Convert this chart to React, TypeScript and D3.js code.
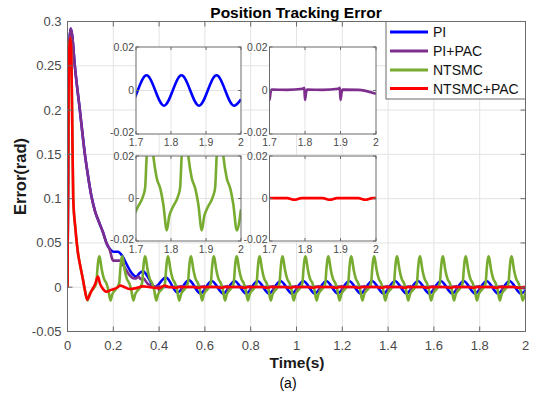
import React from 'react';
import * as d3 from 'd3';

const W = 537;
const H = 393;

// ---------- data ----------
// PI (blue): start-up transient
const piT = [0, 0.004, 0.009, 0.014, 0.02, 0.032, 0.054, 0.076, 0.09, 0.105, 0.12, 0.14, 0.155, 0.17, 0.185, 0.2, 0.22, 0.24, 0.26, 0.28, 0.3, 0.315, 0.33, 0.35, 0.37, 0.38];
const piV = [0, 0.2, 0.28, 0.292, 0.285, 0.25, 0.2, 0.15, 0.125, 0.102, 0.086, 0.072, 0.062, 0.05, 0.043, 0.04, 0.04, 0.035, 0.025, 0.016, 0.012, 0.016, 0.018, 0.012, 0.003, 0.0];
// PI (blue): steady oscillation extrema
const piOscT = [0.43, 0.48, 0.53, 0.58, 0.63, 0.68, 0.73, 0.78, 0.83, 0.88, 0.93, 0.98, 1.03, 1.08, 1.13, 1.18, 1.23, 1.28, 1.33, 1.38, 1.43, 1.48, 1.53, 1.58, 1.63, 1.68, 1.73, 1.78, 1.83, 1.88, 1.93, 1.98, 2.0];
const piOscV = [0.011, -0.006, 0.008, -0.007, 0.007, -0.007, 0.007, -0.007, 0.007, -0.007, 0.007, -0.007, 0.007, -0.007, 0.007, -0.007, 0.007, -0.007, 0.007, -0.007, 0.007, -0.007, 0.007, -0.007, 0.007, -0.007, 0.007, -0.007, 0.007, -0.007, 0.007, -0.007, -0.004];

// PI+PAC (purple): start-up transient
const pipT = [0, 0.004, 0.009, 0.014, 0.02, 0.032, 0.054, 0.076, 0.09, 0.105, 0.12, 0.14, 0.155, 0.17, 0.185, 0.195, 0.2, 0.23, 0.25, 0.27, 0.29, 0.3, 0.31, 0.32, 0.33, 0.35, 0.38];
const pipV = [0, 0.2, 0.28, 0.292, 0.285, 0.25, 0.2, 0.15, 0.125, 0.102, 0.086, 0.072, 0.062, 0.05, 0.042, 0.032, 0.03, 0.03, 0.022, 0.014, 0.01, 0.01, 0.012, 0.009, 0.01, 0.004, 0.001];
// PI+PAC (purple): periodic notch times and notch shape
const pipNotchT = [0.4, 0.5, 0.6, 0.7, 0.8, 0.9, 1.0, 1.1, 1.2, 1.3, 1.4, 1.5, 1.6, 1.7, 1.8, 1.9];
const pipNotchDt = [-0.006, -0.002, 0.0, 0.003, 0.006, 0.05];
const pipNotchV = [0.0008, 0.0012, -0.0043, -0.001, 0.0004, 0.0003];
const pipEnd = [2.0, -0.0015];

// NTSMC (green): start-up transient, then periodic spikes
const ntT = [0, 0.002, 0.004, 0.008, 0.012, 0.016, 0.02, 0.025, 0.035, 0.045, 0.055, 0.065, 0.075];
const ntV = [0, 0.1, 0.2, 0.27, 0.282, 0.27, 0.2, 0.1, 0.065, 0.04, 0.025, 0.012, -0.002];
const ntPeakT = [0.139, 0.239, 0.339, 0.439, 0.539, 0.639, 0.739, 0.839, 0.939, 1.039, 1.139, 1.239, 1.339, 1.439, 1.539, 1.639, 1.739, 1.839, 1.939];
const ntShapeDt = [-0.051, -0.044, -0.033, -0.02, -0.013, -0.0085, -0.004, 0, 0.004, 0.0105, 0.02, 0.031, 0.039];
const ntShapeV = [-0.015, -0.0083, -0.0038, 0.0005, 0.005, 0.02, 0.031, 0.035, 0.031, 0.02, 0.0098, 0.0043, -0.0027];
const ntTailT = [1.988, 2.0];
const ntTailV = [-0.015, -0.005];

// NTSMC+PAC (red)
const ntpT = [0, 0.002, 0.004, 0.008, 0.012, 0.016, 0.02, 0.025, 0.035, 0.045, 0.055, 0.065, 0.075, 0.086, 0.095, 0.105, 0.12, 0.133, 0.142, 0.15, 0.17, 0.19, 0.22, 0.23, 0.25, 0.27, 0.3, 0.33, 0.36, 0.4, 0.425, 0.445];
const ntpV = [0, 0.1, 0.2, 0.27, 0.282, 0.27, 0.2, 0.1, 0.065, 0.04, 0.025, 0.012, -0.002, -0.014, -0.01, -0.004, 0.003, 0.012, 0.004, 0.0, -0.005, -0.003, 0.0, 0.002, 0.0, -0.002, -0.001, 0.001, 0.0, -0.001, 0.002, 0.0];
const ntpDipT = [0.47, 0.57, 0.67, 0.77, 0.87, 0.97, 1.07, 1.17, 1.27, 1.37, 1.47, 1.57, 1.67, 1.77, 1.87, 1.97];
const ntpDipDt = [-0.02, 0, 0.02];
const ntpDipV = [0.0002, -0.0006, 0.0002];
const ntpEnd = [2.0, 0.0002];

const seriesNames = ['PI', 'PI+PAC', 'NTSMC', 'NTSMC+PAC'];
const seriesColors = ['#0000ff', '#7e2f8e', '#77ac30', '#ff0000'];

const xTicks = [0, 0.2, 0.4, 0.6, 0.8, 1, 1.2, 1.4, 1.6, 1.8, 2];
const xTickLabels = ['0', '0.2', '0.4', '0.6', '0.8', '1', '1.2', '1.4', '1.6', '1.8', '2'];
const yTicks = [-0.05, 0, 0.05, 0.1, 0.15, 0.2, 0.25, 0.3];
const yTickLabels = ['-0.05', '0', '0.05', '0.1', '0.15', '0.2', '0.25', '0.3'];
const insetXTicks = [1.7, 1.8, 1.9, 2];
const insetXLabels = ['1.7', '1.8', '1.9', '2'];
const insetYTicks = [-0.02, 0, 0.02];
const insetYLabels = ['-0.02', '0', '0.02'];

// ---------- build point lists ----------
type P = [number, number];
const zip = (t: number[], v: number[]): P[] => t.map((x, i) => [x, v[i]] as P);
const repeat = (times: number[], dt: number[], v: number[]): P[] => {
  const out: P[] = [];
  times.forEach((t0) => dt.forEach((d, i) => out.push([t0 + d, v[i]])));
  return out;
};

const piPts: P[] = [...zip(piT, piV), ...zip(piOscT, piOscV)];
const pipPts: P[] = [...zip(pipT, pipV), ...repeat(pipNotchT, pipNotchDt, pipNotchV), pipEnd as P];
const ntPts: P[] = [...zip(ntT, ntV), ...repeat(ntPeakT, ntShapeDt, ntShapeV), ...zip(ntTailT, ntTailV)];
const ntpPts: P[] = [...zip(ntpT, ntpV), ...repeat(ntpDipT, ntpDipDt, ntpDipV), ntpEnd as P];
const allSeries = [piPts, pipPts, ntPts, ntpPts];

// ---------- layout ----------
const FONT = 'Liberation Sans, Arial, Helvetica, sans-serif';
const M = { left: 67.5, right: 525.5, top: 21.5, bottom: 331.5 };
const x = d3.scaleLinear().domain([0, 2]).range([M.left, M.right]);
const y = d3.scaleLinear().domain([-0.05, 0.3]).range([M.bottom, M.top]);

const insets = [
  { idx: 0, x0: 136, x1: 241, y0: 47, y1: 134 },
  { idx: 1, x0: 269.5, x1: 376, y0: 47, y1: 134 },
  { idx: 2, x0: 136, x1: 241, y0: 156, y1: 241 },
  { idx: 3, x0: 269.5, x1: 376, y0: 156, y1: 241 },
];

const AXIS = '#6b6b6b';
const GRID = '#e3e3e3';
const TXT = '#4a4a4a';

function Inset({ idx, x0, x1, y0, y1 }: { idx: number; x0: number; x1: number; y0: number; y1: number }) {
  const sx = d3.scaleLinear().domain([1.7, 2]).range([x0, x1]);
  const sy = d3.scaleLinear().domain([-0.02, 0.02]).range([y1, y0]);
  const line = d3
    .line<P>()
    .x((d) => sx(d[0]))
    .y((d) => sy(d[1]))
    .curve(d3.curveMonotoneX);
  const pts = allSeries[idx].filter((d) => d[0] >= 1.6);
  const id = `clip-inset-${idx}`;
  return (
    <g>
      <defs>
        <clipPath id={id}>
          <rect x={x0} y={y0} width={x1 - x0} height={y1 - y0} />
        </clipPath>
      </defs>
      <rect x={x0} y={y0} width={x1 - x0} height={y1 - y0} fill="#fff" />
      {insetXTicks.slice(1, 3).map((t) => (
        <line key={t} x1={sx(t)} x2={sx(t)} y1={y0} y2={y1} stroke={GRID} strokeWidth={1} />
      ))}
      <line x1={x0} x2={x1} y1={sy(0)} y2={sy(0)} stroke={GRID} strokeWidth={1} />
      <path d={line(pts) || ''} fill="none" stroke={seriesColors[idx]} strokeWidth={2.6} clipPath={`url(#${id})`} />
      <rect x={x0} y={y0} width={x1 - x0} height={y1 - y0} fill="none" stroke={AXIS} strokeWidth={1} />
      {insetXTicks.map((t, i) => (
        <g key={t}>
          <line x1={sx(t)} x2={sx(t)} y1={y1} y2={y1 - 3} stroke={AXIS} />
          <line x1={sx(t)} x2={sx(t)} y1={y0} y2={y0 + 3} stroke={AXIS} />
          <text x={sx(t)} y={y1 + 12} fontSize={10.5} fill={TXT} textAnchor="middle" fontFamily={FONT}>
            {insetXLabels[i]}
          </text>
        </g>
      ))}
      {insetYTicks.map((t, i) => (
        <g key={t}>
          <line x1={x0} x2={x0 + 3} y1={sy(t)} y2={sy(t)} stroke={AXIS} />
          <line x1={x1} x2={x1 - 3} y1={sy(t)} y2={sy(t)} stroke={AXIS} />
          <text x={x0 - 2} y={sy(t) - (i === 0 ? 1.5 : 0)} dy="0.35em" fontSize={10.5} fill={TXT} textAnchor="end" fontFamily={FONT}>
            {insetYLabels[i]}
          </text>
        </g>
      ))}
    </g>
  );
}

export default function App() {
  const line = d3
    .line<P>()
    .x((d) => x(d[0]))
    .y((d) => y(d[1]))
    .curve(d3.curveMonotoneX);

  const legendY = [32, 51, 70, 88.5];

  return (
    <svg
      width={W}
      height={H}
      viewBox={`0 0 ${W} ${H}`}
      style={{ position: 'absolute', left: 0, top: 0, background: '#fff' }}
      fontFamily={FONT}
    >
      <defs>
        <clipPath id="clip-main">
          <rect x={M.left} y={M.top} width={M.right - M.left} height={M.bottom - M.top} />
        </clipPath>
      </defs>
      <rect x={0} y={0} width={W} height={H} fill="#fff" />

      {/* grid */}
      {xTicks.map((t) => (
        <line key={'gx' + t} x1={x(t)} x2={x(t)} y1={M.top} y2={M.bottom} stroke={GRID} />
      ))}
      {yTicks.map((t) => (
        <line key={'gy' + t} x1={M.left} x2={M.right} y1={y(t)} y2={y(t)} stroke={GRID} />
      ))}

      {/* series */}
      <g clipPath="url(#clip-main)">
        {allSeries.map((pts, i) => (
          <path key={i} d={line(pts) || ''} fill="none" stroke={seriesColors[i]} strokeWidth={2.6} strokeLinejoin="round" />
        ))}
      </g>

      {/* axes box and ticks */}
      <rect x={M.left} y={M.top} width={M.right - M.left} height={M.bottom - M.top} fill="none" stroke={AXIS} />
      {xTicks.map((t, i) => (
        <g key={'tx' + t}>
          <line x1={x(t)} x2={x(t)} y1={M.bottom} y2={M.bottom - 5} stroke={AXIS} />
          <line x1={x(t)} x2={x(t)} y1={M.top} y2={M.top + 5} stroke={AXIS} />
          <text x={x(t)} y={M.bottom + 18} fontSize={13} fill={TXT} textAnchor="middle">
            {xTickLabels[i]}
          </text>
        </g>
      ))}
      {yTicks.map((t, i) => (
        <g key={'ty' + t}>
          <line x1={M.left} x2={M.left + 5} y1={y(t)} y2={y(t)} stroke={AXIS} />
          <line x1={M.right} x2={M.right - 5} y1={y(t)} y2={y(t)} stroke={AXIS} />
          <text x={M.left - 6} y={y(t)} dy="0.35em" fontSize={13} fill={TXT} textAnchor="end">
            {yTickLabels[i]}
          </text>
        </g>
      ))}

      {/* insets */}
      {insets.map((ins) => (
        <Inset key={ins.idx} {...ins} />
      ))}

      {/* legend */}
      <rect x={386} y={21.5} width={139.5} height={77.5} fill="#fff" stroke={AXIS} />
      {seriesNames.map((n, i) => (
        <g key={n}>
          <line x1={390} x2={428} y1={legendY[i]} y2={legendY[i]} stroke={seriesColors[i]} strokeWidth={3} />
          <text x={433} y={legendY[i]} dy="0.36em" fontSize={14} fill="#111">
            {n}
          </text>
        </g>
      ))}

      {/* titles */}
      <text x={296} y={17.5} fontSize={15.5} fontWeight="bold" textAnchor="middle" fill="#000">
        Position Tracking Error
      </text>
      <text x={297} y={368} fontSize={15.5} fontWeight="bold" textAnchor="middle" fill="#1a1a1a">
        Time(s)
      </text>
      <text
        transform={`translate(26,${(M.top + M.bottom) / 2}) rotate(-90)`}
        fontSize={16.5}
        fontWeight="bold"
        textAnchor="middle"
        fill="#1a1a1a"
      >
        Error(rad)
      </text>
      <text x={288} y={388} fontSize={14} textAnchor="middle" fill="#000">
        (a)
      </text>
    </svg>
  );
}
